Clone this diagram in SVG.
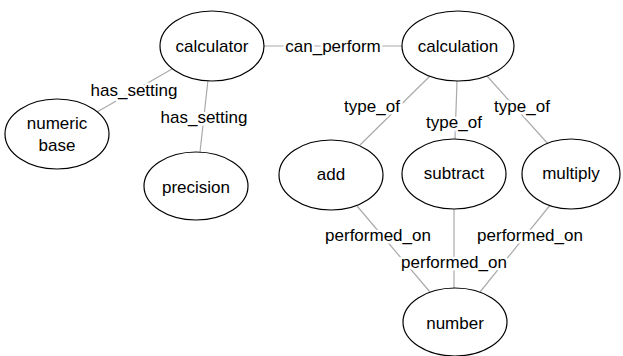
<svg xmlns="http://www.w3.org/2000/svg" width="623" height="356" viewBox="0 0 623 356">
<style>
.n{fill:#fff;stroke:#000;stroke-width:1.2}
.t{font-family:"Liberation Sans",Arial,sans-serif;font-size:17px;fill:#000;text-anchor:middle;dominant-baseline:central}
.e{stroke:#aaa;stroke-width:1.2;fill:none}
.l{font-family:"Liberation Sans",Arial,sans-serif;font-size:17px;fill:#000;text-anchor:middle;dominant-baseline:central;stroke:#fff;stroke-width:5;paint-order:stroke;stroke-linejoin:round}
</style>
<rect width="623" height="356" fill="#fff"/>
<g id="connectors">
<line class="e" x1="264" y1="46" x2="402" y2="46"/>
<line class="e" x1="172" y1="69" x2="97" y2="112"/>
<line class="e" x1="208" y1="80" x2="200" y2="152"/>
<line class="e" x1="430" y1="76" x2="360" y2="145"/>
<line class="e" x1="457" y1="81" x2="455" y2="139"/>
<line class="e" x1="487" y1="76" x2="549" y2="145"/>
<line class="e" x1="357" y1="206" x2="430" y2="292"/>
<line class="e" x1="454" y1="209" x2="454" y2="288"/>
<line class="e" x1="551" y1="204" x2="480" y2="292"/>
<text class="l" x="333" y="46">can_perform</text>
<text class="l" x="134" y="90">has_setting</text>
<text class="l" x="204" y="117">has_setting</text>
<text class="l" x="372" y="106">type_of</text>
<text class="l" x="454" y="122">type_of</text>
<text class="l" x="522" y="106">type_of</text>
<text class="l" x="378" y="235">performed_on</text>
<text class="l" x="530" y="235">performed_on</text>
<text class="l" x="454" y="262">performed_on</text>
</g>
<g id="calculator"><ellipse class="n" cx="212" cy="46" rx="52" ry="35"/><text class="t" x="212" y="46">calculator</text></g>
<g id="numeric_base"><ellipse class="n" cx="57" cy="134" rx="52" ry="35"/><text class="t" x="57" y="123">numeric</text><text class="t" x="57" y="145">base</text></g>
<g id="precision"><ellipse class="n" cx="196" cy="186" rx="52" ry="34"/><text class="t" x="196" y="187">precision</text></g>
<g id="calculation"><ellipse class="n" cx="458" cy="46" rx="56" ry="35"/><text class="t" x="458" y="46">calculation</text></g>
<g id="add"><ellipse class="n" cx="331" cy="175" rx="52" ry="35"/><text class="t" x="331" y="174">add</text></g>
<g id="subtract"><ellipse class="n" cx="454" cy="174" rx="52" ry="35"/><text class="t" x="454" y="173">subtract</text></g>
<g id="multiply"><ellipse class="n" cx="571" cy="174" rx="49" ry="35"/><text class="t" x="571" y="173">multiply</text></g>
<g id="number"><ellipse class="n" cx="455" cy="322" rx="52" ry="34"/><text class="t" x="455" y="323">number</text></g>
</svg>
